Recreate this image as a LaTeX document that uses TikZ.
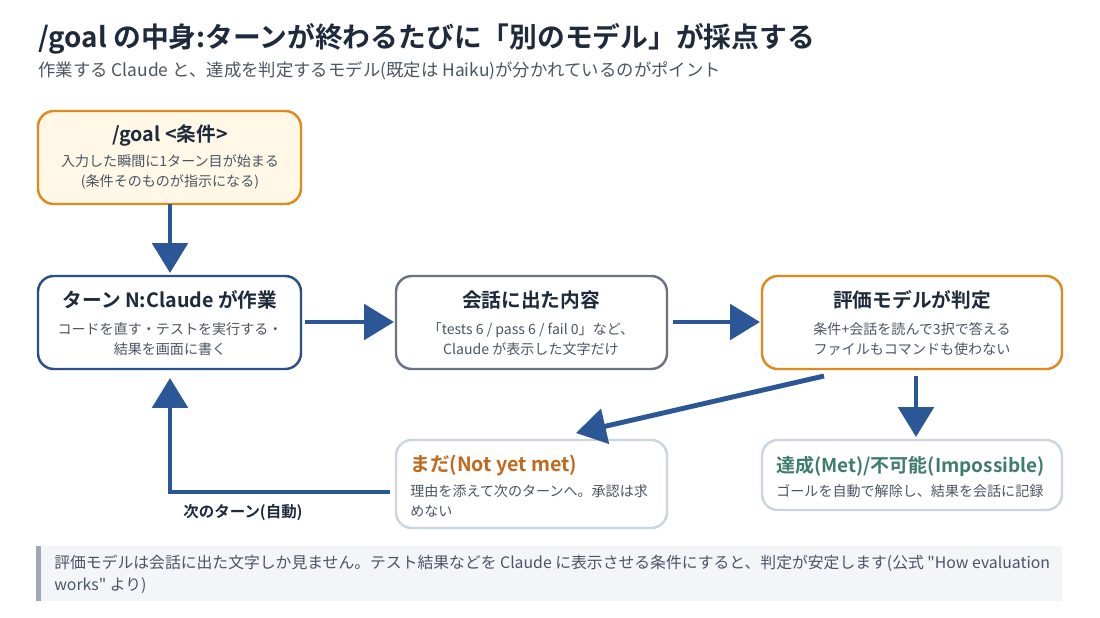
\documentclass[tikz,border=0pt]{standalone}
\usepackage{fontspec}
\setmainfont{Noto Sans CJK JP}[BoldFont={Noto Sans CJK JP Bold}]
\usetikzlibrary{arrows.meta}
\definecolor{navy}{HTML}{2A4F8A}
\definecolor{arr}{HTML}{2B5797}
\definecolor{org}{HTML}{E0891E}
\definecolor{txt}{HTML}{1F2A3C}
\definecolor{sub}{HTML}{4B5563}
\definecolor{gr}{HTML}{6B7280}
\definecolor{lg}{HTML}{CBD5E1}
\definecolor{brn}{HTML}{C0691E}
\definecolor{grn}{HTML}{3E7D6A}
\definecolor{notebg}{HTML}{F3F5F9}
\definecolor{notebar}{HTML}{A0A8B5}
\definecolor{ylw}{HTML}{FFF8E6}
\begin{document}
\begin{tikzpicture}[x=0.02cm,y=-0.02cm,
 box/.style={draw,rounded corners=9pt,line width=1.4pt,fill=white},
 ttl/.style={font=\bfseries\fontsize{11.2}{13}\selectfont,text=txt},
 bt/.style={font=\fontsize{8}{11.3}\selectfont,text=sub,align=center},
 ar/.style={draw=arr,line width=2.8pt,-{Triangle[width=20pt,length=17pt]}}]
\useasboundingbox (0,0) rectangle (1100,618);
\fill[white] (0,0) rectangle (1100,618);
\node[anchor=west,inner sep=0pt,font=\bfseries\fontsize{15.8}{18}\selectfont,text=txt] (t) at (38,39) {/goal の中身:ターンが終わるたびに「別のモデル」が採点する};
\node[anchor=west,inner sep=0pt,font=\fontsize{9.9}{11}\selectfont,text=sub] (s) at (38,71) {作業する Claude と、達成を判定するモデル(既定は Haiku)が分かれているのがポイント};
% boxes
\draw[box,draw=org,fill=ylw] (38,111) rectangle (301,204);
\node[ttl] (gt) at (170,136) {/goal <条件>};
\node[bt] (gb) at (170,172) {入力した瞬間に1ターン目が始まる\\(条件そのものが指示になる)};
\draw[box,draw=navy] (38,276) rectangle (301,369);
\node[ttl] (nt) at (170,300) {ターン N:Claude が作業};
\node[bt] (nb) at (170,339) {コードを直す・テストを実行する・\\結果を画面に書く};
\draw[box,draw=gr] (396,276) rectangle (667,369);
\node[ttl] (kt) at (531,300) {会話に出た内容};
\node[bt] (kb) at (531,339) {「tests 6 / pass 6 / fail 0」など、\\Claude が表示した文字だけ};
\draw[box,draw=org] (762,276) rectangle (1062,369);
\node[ttl] (ht) at (912,300) {評価モデルが判定};
\node[bt] (hb) at (912,339) {条件+会話を読んで3択で答える\\ファイルもコマンドも使わない};
\draw[box,draw=lg] (396,440) rectangle (667,528);
\node[ttl,anchor=west,inner sep=0pt,text=brn] (mt) at (410,466) {まだ(Not yet met)};
\node[bt,anchor=north west,inner sep=0pt,align=left] (mb) at (410,484) {理由を添えて次のターンへ。承認は求\\めない};
\draw[box,draw=lg] (762,440) rectangle (1062,510);
\node[ttl,anchor=west,inner sep=0pt,text=grn,font=\bfseries\fontsize{10.8}{13}\selectfont] (dt) at (776,466) {達成(Met)/不可能(Impossible)};
\node[bt,anchor=west,inner sep=0pt] (db) at (776,491) {ゴールを自動で解除し、結果を会話に記録};
% arrows
\coordinate (a1) at (170,204); \coordinate (a2) at (170,273);
\draw[ar] (a1) -- (a2);
\coordinate (b1) at (305,322); \coordinate (b2) at (394,322);
\draw[ar] (b1) -- (b2);
\coordinate (c1) at (673,322); \coordinate (c2) at (760,322);
\draw[ar] (c1) -- (c2);
\coordinate (d1) at (824,376); \coordinate (d2) at (576,433);
\draw[ar] (d1) -- (d2);
\coordinate (e1) at (916,376); \coordinate (e2) at (916,437);
\draw[ar] (e1) -- (e2);
\coordinate (f1) at (390,492); \coordinate (f2) at (170,492); \coordinate (f3) at (170,378);
\draw[ar] (f1) -- (f2) -- (f3);
\node[font=\bfseries\fontsize{8.8}{10}\selectfont,text=txt] (lb) at (243,512) {次のターン(自動)};
% note
\fill[notebg] (36,546) rectangle (1062,601);
\fill[notebar] (36,546) rectangle (41,601);
\node[anchor=north west,inner sep=0pt,font=\fontsize{9}{12.3}\selectfont,text=sub,align=left] (nn) at (54,555) {評価モデルは会話に出た文字しか見ません。テスト結果などを Claude に表示させる条件にすると、判定が安定します(公式 \textquotedbl How evaluation\\works\textquotedbl\ より)};
\end{tikzpicture}
\end{document}
